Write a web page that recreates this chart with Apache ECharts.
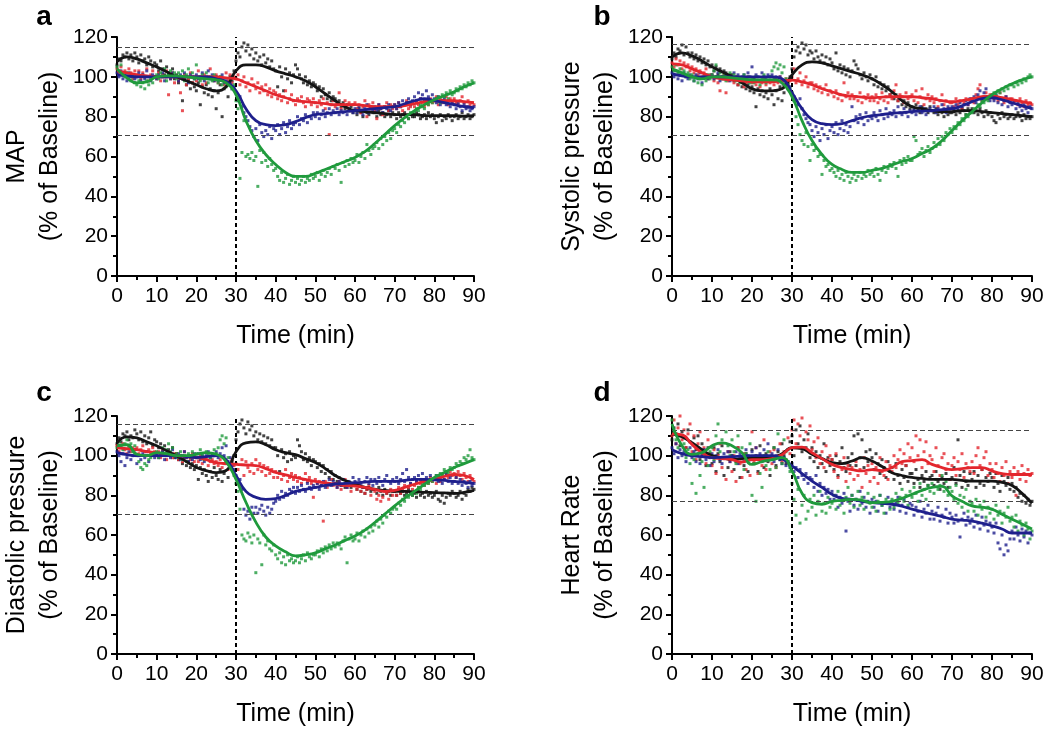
<!DOCTYPE html>
<html><head><meta charset="utf-8">
<script src="https://cdn.jsdelivr.net/npm/echarts@6/dist/echarts.min.js"></script>
<style>html,body{margin:0;padding:0;background:#fff}#c{width:1050px;height:736px}</style>
</head><body><div id="c"></div>
<script>
// ---- time sampling (minutes) ----
const LINE_STEP = 2.5;     // fitted curves sampled every 2.5 min
const DOT_STEP = 0.5;      // raw points every 0.5 min
const X_TICKS = [0, 10, 20, 30, 40, 50, 60, 70, 80, 90];
const Y_TICKS = [0, 20, 40, 60, 80, 100, 120];
const INJECTION_TIME = 30;

const PANEL_LETTERS = ['a', 'b', 'c', 'd'];
const PANEL_YTITLES = ['MAP', 'Systolic pressure', 'Diastolic pressure', 'Heart Rate'];
const X_TITLE = 'Time (min)';
const Y_SUBTITLE = '(% of Baseline)';
const THRESHOLDS = [[115, 70.7], [116.3, 70.7], [115.9, 70.3], [112.8, 76.8]];

// ---- fitted curves ----
const MAP_BLACK_LINE = [107.5,110,109,107,105,102.5,100,98,96,94,93,95,103,106,106,105,103,101.5,100,98,95,91.5,88,85,83,82.5,82,81.5,81,81,81,80.5,80.5,80.5,80.5,80.3,80.5];
const MAP_RED_LINE = [103,102,101,100.5,100,100,100,100,100,100,100,99.5,99,97,95,93,91,89.5,88,87.5,87,86.5,86,86,86,85.5,85,85,85,85.5,86.5,87.5,88,88,88,87.5,87];
const MAP_BLUE_LINE = [101,100.5,100,100,100,100,100,100,100,100,99,97.5,93,84,78,76,75.5,76,77.5,79.5,81,81.5,82,82.5,83,83.5,84,84.5,85,86.5,88,89,88,87,86,85,84.5];
const MAP_GREEN_LINE = [104,99.5,97,97.5,100,100.5,100.5,100,99.5,99,98.5,97,91,78,68,61,56,52,50,50,51.5,53.5,55.5,57.5,59.5,62.5,66.5,71,75.5,79.5,83,86,88.5,90.5,92.5,95,97];

const SYS_BLACK_LINE = [110,112,110.5,108,105,102.5,100,97,94,93,93,94,101,106,107.5,107,105.5,104,102.5,101,99,96,92.5,88,85,84,83,82.5,82.5,83,83,82.5,82,81.5,81,80.5,80];
const SYS_RED_LINE = [106.5,106,104,102,100,99,98.5,98,97.5,97.5,97.5,98,98.3,97.5,96,94,92.5,91,90.3,89.8,89.5,89.8,90,90,90,89.5,89,88,87.5,88,89,90,90.3,89.5,88.5,87.5,86.5];
const SYS_BLUE_LINE = [101.5,100.5,100,100,100,100,100,100,100,100,100,99,92,84,78.5,76.5,76,76.5,78,79.5,80.5,81,81.7,82,82.5,82.8,83,83.5,84,85.5,87.5,89,89.5,88.5,87,85.5,84];
const SYS_GREEN_LINE = [104,102,100,99,100,100,99.5,99,98.5,98.5,98.5,97,90,78,68,61,56,53.5,52,52,53,54,55.8,57.5,59,61.5,64,68,73,78,82.5,87,91,94,96.5,98.5,100];

const DIA_BLACK_LINE = [106.5,109.5,109,107,105,102.5,100,97,94,92.5,91.5,92.5,102,106.5,107,105.5,103,101.5,100.5,98.5,96.5,93.5,90,87.5,85.5,84,83,82.5,82,82,81.7,81.5,81.4,81.2,81,81.5,82.5];
const DIA_RED_LINE = [104,103.5,103,102,101.5,100.5,100,99.5,99,98,96.5,96,95.6,95.3,95,93.5,91.5,90.3,89,88,87,86.3,85.6,85,84.7,84,83,82,82.5,84,85.6,87,88,89.5,90.5,90,88];
const DIA_BLUE_LINE = [101.5,100.5,100,100,100,100,100,99.5,99,99.5,100,98,90,82,79,78,78.4,80,82,83,84,85,85.6,86,86.4,86.7,87,87,87,87.5,88,88,87.8,87.5,87,86.5,86];
const DIA_GREEN_LINE = [105,105.5,100.7,100,101.5,101,100,100,100.7,101.5,100.7,97,88,76.5,66.5,59,54.5,51.5,49.5,50,51,53,55,57.3,59.5,62.5,66.3,70.5,74.7,78.5,82,85.5,89,91.5,94,96,98];

const HR_BLACK_LINE = [111,109.5,106.5,103,100,99,98,98.5,99,99,99,101,104,103.5,100.7,98.5,96.5,96,97.3,99,97.3,94.5,91.4,90,89,88.5,88,88,88,87.5,87.2,87.2,87.2,86.5,85,81,76];
const HR_RED_LINE = [111,110.5,105.7,101.5,99,98.5,98,96.8,98,98,98.5,100.5,104,104.3,101.5,98.5,95.6,94,93,92.3,93,92.5,94,97,97.5,98,95.6,94,93,93.5,94,94,92.3,91,90.5,90.5,90.5];
const HR_BLUE_LINE = [103,101,100,99.5,99,99.3,99.5,99.8,100,100,100,98.5,94.8,91,87.2,84,80.5,78.5,78,77,76.3,76,75.5,74.5,73,71.8,70.5,69.3,68,67.5,67,66,64.6,63,61,61,61];
const HR_GREEN_LINE = [116,105,100.7,101.5,105,106.5,105,101.5,95.6,97,98,99,92.3,81,76.3,75.5,77,77.5,78,77.5,76.3,76.5,77,78.5,80.5,82.5,84,84.5,79.7,77,74.7,74,73,70.5,68,65.5,63];

// ---- raw points (every 0.5 min, 0..90) ----
const MAP_BLACK_DOTS = [
106,109,108,111,110,112,109,111,108,112, 110,107,111,108,109,106,110,108,105,107,
106,103,108,104,101,105,102,100,104,99, 101,97,100,88,99,96,98,94,97,95,
93,97,86,95,92,96,91,94,90,93, 84,92,96,80,94,97,90,100,98,103,
108,112,110,115,117,113,116,111,114,109, 112,108,110,106,111,107,109,105,108,104,
103,95,105,100,93,104,99,102,97,101, 106,104,101,99,97,100,96,98,95,97,
96,93,95,90,94,91,89,92,88,90, 89,86,88,85,87,84,86,83,85,82,
83,81,84,82,80,83,82,81,84,82, 82,80,83,81,82,80,81,83,80,82,
81,79,82,80,81,82,80,79,81,80, 80,82,81,79,80,81,79,82,80,81,
79,77,80,81,78,80,79,81,80,78, 80,81,79,80,82,79,80,81,79,80, 81];
const MAP_RED_DOTS = [
104,102,105,101,103,100,104,102,99,103, 101,103,99,102,100,104,98,101,103,100,
99,102,98,101,100,103,91,99,102,97, 100,98,92,83,101,96,99,102,97,100,
98,103,99,96,101,97,100,104,99,98, 101,97,100,99,96,102,98,101,97,100,
99,101,96,98,100,95,97,93,99,96, 94,97,92,95,93,96,91,94,90,93,
92,89,91,88,90,93,87,89,91,88, 86,89,88,90,87,85,89,88,86,89,
87,85,88,86,89,84,87,71,86,88, 85,87,92,84,86,88,85,87,83,86,
87,84,86,82,85,88,80,86,84,87, 83,79,86,84,81,85,87,83,86,84,
86,84,87,85,83,86,88,84,85,87, 85,88,86,89,87,85,88,86,89,87,
88,90,86,89,87,88,90,86,89,87, 89,87,86,88,90,87,85,88,86,87, 86];
const MAP_BLUE_DOTS = [
102,100,103,99,101,98,102,100,101,99, 100,102,98,101,99,103,100,98,101,100,
99,101,100,102,98,100,101,99,102,100, 100,98,101,99,102,100,97,101,100,99,
101,99,100,102,98,100,103,99,101,98, 100,98,99,101,97,98,96,97,94,95,
92,88,90,85,82,80,78,75,73,70, 74,68,76,72,70,73,71,75,69,74,
73,76,71,74,77,72,75,78,74,76, 77,80,76,79,78,81,77,80,79,82,
80,82,79,81,83,80,82,84,81,83, 82,84,81,83,82,85,81,84,83,82,
84,82,85,83,81,84,86,82,85,83, 85,83,86,84,82,85,84,86,83,85,
86,84,87,85,88,86,87,89,86,88, 90,87,92,89,91,88,93,90,88,91,
89,87,90,86,88,89,86,88,85,87, 86,84,87,85,83,86,84,85,83,84, 85];
const MAP_GREEN_DOTS = [
105,103,106,101,100,102,99,98,100,97, 96,98,95,97,94,98,96,99,97,100,
101,99,102,100,104,98,101,103,100,102, 99,102,100,103,98,101,104,100,102,99,
106,100,98,101,99,102,97,100,98,101, 99,97,100,96,98,95,97,99,94,96,
88,84,49,62,78,60,61,59,62,58, 60,45,63,57,62,58,55,59,56,53,
54,50,48,52,47,49,51,46,48,50, 47,49,46,48,50,47,49,48,51,49,
50,52,48,51,53,50,52,54,51,55, 54,56,53,47,57,55,58,56,59,57,
58,61,57,60,62,59,66,63,61,64, 65,67,64,69,66,70,68,72,69,73,
74,72,76,75,78,77,80,79,82,81, 82,84,83,86,85,84,87,86,88,87,
88,89,90,87,91,90,92,89,93,91, 92,94,93,95,94,96,95,97,96,98, 97];

const SYS_BLACK_DOTS = [
109,112,110,114,113,116,111,115,112,110, 112,109,111,108,110,107,109,106,108,105,
106,103,105,101,104,100,103,102,99,101, 101,98,100,96,99,95,97,94,96,93,
95,92,85,94,91,93,90,92,89,94, 91,86,93,89,95,88,92,97,96,100,
104,110,113,115,112,117,114,116,111,113, 112,109,113,110,108,111,107,110,106,109,
107,104,112,103,106,102,105,101,104,100, 103,108,106,104,101,99,102,100,98,101,
99,96,100,95,97,94,96,93,95,91, 92,89,91,88,90,86,88,85,87,84,
85,83,86,84,82,85,83,84,82,85, 83,82,84,81,83,82,80,83,81,82,
82,84,81,83,82,84,83,81,84,82, 84,82,83,81,84,82,80,83,81,82,
80,78,77,81,79,82,80,81,79,80, 81,79,80,82,80,78,81,79,80,79, 80];
const SYS_RED_DOTS = [
107,105,109,106,108,104,107,105,106,103, 105,102,104,101,103,100,102,104,99,101,
101,98,100,97,93,99,101,92,98,100, 99,97,100,96,98,99,95,97,100,98,
97,99,96,98,95,97,99,96,98,97, 98,96,99,97,100,98,96,99,97,98,
100,104,97,99,102,96,98,100,95,97, 97,94,96,93,95,92,94,96,91,93,
92,90,93,89,91,88,97,90,92,89, 91,89,90,88,92,87,90,89,91,88,
90,88,91,87,89,92,88,90,87,91, 89,93,96,88,91,90,87,92,89,90,
91,88,93,87,90,94,86,89,91,88, 90,87,89,85,88,91,86,88,84,87,
87,85,89,86,88,84,87,89,86,88, 89,87,91,94,96,88,90,92,89,91,
91,89,90,88,92,89,87,90,88,89, 89,87,88,86,89,87,85,88,86,87, 86];
const SYS_BLUE_DOTS = [
102,100,103,99,101,98,102,100,99,101, 100,98,101,99,102,97,100,101,99,100,
101,99,100,102,98,100,99,101,100,98, 100,102,99,101,98,100,101,99,102,100,
105,99,101,100,98,102,100,99,101,100, 101,99,100,98,100,97,96,98,94,95,
92,90,88,86,89,84,81,79,77,76, 73,70,75,72,68,74,71,76,69,73,
75,72,77,71,74,78,73,76,72,75, 85,78,80,77,81,79,76,82,78,80,
79,82,80,78,83,81,79,84,80,82, 81,83,80,85,82,81,84,82,80,83,
82,84,81,83,85,82,84,81,83,84, 83,85,82,84,83,86,84,82,85,84,
85,83,86,84,87,85,86,88,86,89, 88,90,87,91,93,89,92,94,90,88,
90,88,91,87,89,86,88,90,85,87, 86,88,84,87,85,83,86,84,82,85, 84];
const SYS_GREEN_DOTS = [
105,103,106,102,104,101,103,100,102,99, 101,98,100,97,99,96,100,98,101,99,
101,103,106,100,102,99,101,98,100,102, 99,101,98,100,97,99,101,98,100,97,
99,97,100,98,96,99,101,97,98,100, 103,105,107,104,106,102,105,99,97,94,
92,88,80,76,71,68,66,72,65,58, 66,63,64,60,61,51,58,55,56,53,
54,52,50,53,49,51,48,52,50,47, 49,51,48,50,52,49,51,50,53,51,
52,50,54,51,48,53,55,52,54,56, 55,57,54,50,58,56,59,57,60,58,
58,70,68,61,62,64,60,63,65,62, 64,67,65,69,66,70,68,72,71,74,
72,75,74,77,76,79,78,81,80,83, 82,84,83,86,85,88,87,89,88,90,
90,92,91,93,92,94,93,95,94,96, 96,95,97,96,98,97,99,98,100,101, 100];

const DIA_BLACK_DOTS = [
106,109,107,111,110,112,108,110,109,113, 111,108,112,107,110,106,109,112,105,108,
107,104,106,102,105,101,103,100,104,99, 101,98,100,96,99,95,97,94,96,93,
95,88,94,91,93,90,87,92,89,94, 90,88,93,87,91,96,89,94,97,100,
108,112,116,118,114,111,117,113,115,110, 112,108,111,107,110,106,109,105,108,104,
104,100,92,103,99,101,97,102,98,100, 99,108,105,102,98,101,97,99,95,98,
97,94,96,92,95,91,93,89,92,88, 90,87,89,85,88,84,87,86,84,85,
86,83,85,82,84,81,83,84,82,83, 83,81,84,82,80,83,81,82,80,82,
82,80,83,81,82,80,81,83,81,80, 81,79,82,80,81,79,82,80,81,79,
80,82,78,77,80,76,79,81,80,82, 81,79,80,82,78,81,80,83,82,84, 83];
const DIA_RED_DOTS = [
105,102,104,106,103,101,105,102,104,103, 104,101,103,105,102,100,103,101,104,102,
100,102,99,103,101,98,102,100,99,101, 101,98,100,97,102,99,100,98,101,97,
99,97,100,96,98,99,95,97,98,96, 97,95,98,94,96,97,93,96,98,95,
96,93,85,98,90,97,94,92,96,91, 98,93,96,92,95,90,94,91,93,89,
92,89,91,88,90,93,87,89,91,88, 90,87,89,86,88,91,87,89,86,79,
88,86,87,85,67,87,84,86,88,85, 86,84,87,83,85,88,84,86,82,85,
85,83,86,82,84,81,83,85,80,83, 82,78,80,77,79,82,81,78,83,80,
82,80,84,81,83,85,82,84,86,83, 85,87,84,86,88,85,87,86,89,87,
88,86,89,87,90,88,91,89,92,90, 91,89,92,90,88,91,89,87,90,88, 87];
const DIA_BLUE_DOTS = [
102,100,97,101,95,99,102,98,100,103, 96,100,98,101,99,102,97,100,101,99,
101,99,100,102,98,100,101,99,103,100, 99,101,98,100,102,99,97,100,98,101,
99,101,98,100,97,100,102,99,101,100, 102,99,101,104,100,105,97,99,95,93,
90,86,88,83,73,70,72,68,74,71, 74,71,73,75,72,70,74,71,73,76,
77,80,78,82,79,81,80,83,82,84, 81,84,82,85,83,82,86,84,83,85,
84,86,83,85,87,84,86,88,85,87, 86,84,87,85,88,86,84,87,85,89,
87,85,88,86,84,87,89,86,88,85, 88,86,89,87,85,88,90,87,86,88,
87,89,86,88,91,87,93,89,86,88, 89,87,90,88,91,86,89,87,90,88,
88,90,87,89,86,88,91,87,89,86, 87,89,86,88,85,87,86,84,87,85, 86];
const DIA_GREEN_DOTS = [
104,107,105,103,106,108,104,106,102,105, 100,97,94,93,96,95,98,99,101,100,
102,99,101,104,100,103,106,102,104,100, 101,99,102,98,100,97,101,99,102,100,
101,99,103,100,98,102,101,99,100,103, 101,104,108,110,106,109,99,96,93,90,
86,82,73,60,58,57,61,59,56,60, 41,58,56,45,60,55,57,53,52,55,
50,48,51,46,49,45,50,47,48,46, 47,49,46,48,50,47,51,49,48,50,
50,52,49,53,51,54,52,55,53,56, 54,56,55,53,57,59,46,58,60,57,
58,61,57,60,62,59,63,61,64,62, 65,67,64,68,66,70,69,72,71,73,
74,73,76,75,78,77,80,79,81,80, 82,81,84,83,86,85,87,86,88,87,
88,90,89,91,90,93,92,91,94,93, 94,96,95,97,96,99,98,100,103,99, 98];

const HR_BLACK_DOTS = [
108,114,111,116,105,112,109,104,113,107, 100,109,103,110,98,106,101,95,104,99,
96,104,92,101,97,105,90,99,94,102, 100,93,97,104,89,99,95,101,92,98,
103,96,100,92,105,98,94,101,97,90, 99,104,95,102,98,106,100,96,103,107,
110,100,113,106,115,102,108,104,111,99, 104,97,102,94,100,96,106,92,99,95,
98,93,100,90,97,104,94,92,99,95, 101,110,95,111,99,108,94,102,97,103,
99,93,101,96,91,98,94,89,97,92, 94,88,96,90,86,93,89,95,87,91,
91,86,93,88,84,90,87,92,85,89, 90,85,92,87,83,89,86,91,84,88,
89,94,86,108,90,84,92,87,85,91, 88,92,84,90,86,93,85,89,87,91,
89,84,91,86,82,90,87,85,89,83, 86,82,84,79,81,77,80,76,78,75, 77];
const HR_RED_DOTS = [
110,118,106,114,120,108,113,104,111,116, 102,110,98,106,112,100,104,96,108,101,
95,103,91,100,106,94,99,88,102,97, 92,100,87,104,96,89,101,93,98,90,
112,97,104,91,100,95,108,93,99,102, 96,103,94,100,106,97,102,98,109,101,
113,118,106,116,110,119,104,112,108,115, 103,107,99,109,96,102,94,105,98,100,
98,92,101,89,96,93,99,87,95,91, 94,88,97,90,93,84,99,91,95,87,
96,89,94,86,99,92,90,97,88,95, 92,100,94,98,103,96,101,95,106,99,
104,97,110,100,108,94,102,107,96,100, 98,92,104,95,90,99,101,93,96,88,
95,99,90,97,93,101,89,96,94,92, 97,91,100,104,95,93,99,102,90,96,
93,89,96,91,87,94,90,97,86,92, 89,94,80,92,88,95,91,87,93,90, 91];
const HR_BLUE_DOTS = [
104,101,106,99,103,100,102,97,101,104, 99,102,97,101,96,100,103,98,100,95,
101,97,100,103,98,96,101,99,102,97, 100,98,102,96,101,99,97,103,100,98,
102,99,104,98,101,97,103,100,106,99, 101,97,100,103,98,96,99,95,97,94,
96,92,94,89,93,90,88,91,86,89, 88,84,90,82,86,80,84,81,83,78,
82,78,80,74,79,76,81,62,77,72, 80,75,78,73,82,76,79,74,77,71,
78,74,77,72,80,75,76,71,79,74, 77,73,76,79,72,75,78,71,74,76,
75,70,74,72,77,69,73,71,75,68, 72,68,71,74,67,70,69,73,66,71,
69,66,70,67,59,68,71,65,69,66, 68,64,70,66,63,69,65,67,62,66,
64,61,66,56,53,60,50,55,52,58, 62,58,64,60,57,63,59,62,56,61, 60];
const HR_GREEN_DOTS = [
118,112,108,104,110,101,106,99,103,96, 86,98,81,104,90,97,84,100,95,102,
104,98,110,116,102,108,99,112,105,100, 108,102,96,110,99,104,93,101,97,106,
80,96,77,99,91,84,100,95,102,93, 98,104,94,111,100,96,108,102,97,92,
86,78,70,83,66,75,80,68,72,78, 74,80,70,77,82,72,76,71,79,74,
76,80,73,82,75,78,71,79,84,76, 80,74,78,82,75,79,73,77,81,76,
74,79,72,77,80,75,71,78,76,73, 78,74,81,76,79,83,77,80,75,82,
79,84,81,77,86,80,83,78,85,82, 86,81,88,83,85,90,82,87,80,84,
82,78,85,76,80,74,79,83,72,77, 76,72,78,70,75,73,77,69,74,71,
73,68,75,70,72,66,71,69,74,67, 69,64,70,62,67,65,60,66,63,58, 62];

const PANEL_SERIES = [
  [MAP_BLACK_DOTS, MAP_RED_DOTS, MAP_BLUE_DOTS, MAP_GREEN_DOTS, MAP_BLACK_LINE, MAP_RED_LINE, MAP_BLUE_LINE, MAP_GREEN_LINE],
  [SYS_BLACK_DOTS, SYS_RED_DOTS, SYS_BLUE_DOTS, SYS_GREEN_DOTS, SYS_BLACK_LINE, SYS_RED_LINE, SYS_BLUE_LINE, SYS_GREEN_LINE],
  [DIA_BLACK_DOTS, DIA_RED_DOTS, DIA_BLUE_DOTS, DIA_GREEN_DOTS, DIA_BLACK_LINE, DIA_RED_LINE, DIA_BLUE_LINE, DIA_GREEN_LINE],
  [HR_BLACK_DOTS, HR_RED_DOTS, HR_BLUE_DOTS, HR_GREEN_DOTS, HR_BLACK_LINE, HR_RED_LINE, HR_BLUE_LINE, HR_GREEN_LINE]
];

// ---- styling / layout ----
const COLORS = ['#141414', '#e3262d', '#1e1f8c', '#1f9a3c'];
const FONT = '"Liberation Sans", Arial, sans-serif';
const GRIDS = [
  {left: 114, top: 37, width: 360, height: 239},
  {left: 672, top: 37, width: 360, height: 239},
  {left: 114, top: 416, width: 360, height: 238},
  {left: 672, top: 416, width: 360, height: 238}
];
const LETTER_POS = [[44, 17.5], [602, 17.5], [44, 393.5], [602, 393.5]];

const grid = [], xAxis = [], yAxis = [], series = [], graphic = [];
GRIDS.forEach((g, p) => {
  grid.push(Object.assign({containLabel: false}, g));
  const axisCommon = {
    type: 'value', gridIndex: p,
    axisLine: {show: true, onZero: false, lineStyle: {color: '#000', width: 2}},
    axisTick: {show: true, inside: false, length: 6, lineStyle: {color: '#000', width: 2}},
    minorTick: {show: true, splitNumber: 2, length: 4, lineStyle: {color: '#000', width: 2}},
    splitLine: {show: false}, minorSplitLine: {show: false},
    axisLabel: {color: '#000', fontSize: 21, fontFamily: FONT},
    nameLocation: 'middle',
    nameTextStyle: {color: '#000', fontSize: 25, fontFamily: FONT, lineHeight: 33}
  };
  xAxis.push(Object.assign({}, axisCommon, {
    min: X_TICKS[0], max: X_TICKS[X_TICKS.length - 1], interval: X_TICKS[1] - X_TICKS[0],
    axisLabel: Object.assign({}, axisCommon.axisLabel, {margin: 10}),
    name: X_TITLE, nameGap: 44
  }));
  yAxis.push(Object.assign({}, axisCommon, {
    min: Y_TICKS[0], max: Y_TICKS[Y_TICKS.length - 1], interval: Y_TICKS[1] - Y_TICKS[0],
    axisLabel: Object.assign({}, axisCommon.axisLabel, {margin: 9}),
    name: PANEL_YTITLES[p] + '\n' + Y_SUBTITLE, nameGap: 50
  }));
  const arrs = PANEL_SERIES[p];
  for (let k = 0; k < 4; k++) {
    series.push({
      type: 'scatter', xAxisIndex: p, yAxisIndex: p, silent: true,
      symbol: 'rect', symbolSize: 3, z: 2,
      itemStyle: {color: COLORS[k]},
      data: arrs[k].map((v, i) => [i * DOT_STEP, v])
    });
  }
  for (let k = 0; k < 4; k++) {
    const s = {
      type: 'line', xAxisIndex: p, yAxisIndex: p, silent: true,
      smooth: 0.5, showSymbol: false, symbol: 'none', z: 4,
      lineStyle: {color: COLORS[k], width: 2.8},
      data: arrs[4 + k].map((v, i) => [i * LINE_STEP, v])
    };
    if (k === 0) {
      s.markLine = {
        silent: true, symbol: ['none', 'none'], label: {show: false}, z: 3,
        data: [
          {xAxis: INJECTION_TIME, lineStyle: {color: '#000', width: 2, type: [4, 3]}},
          {yAxis: THRESHOLDS[p][0], lineStyle: {color: '#444', width: 1.2, type: [5, 3]}},
          {yAxis: THRESHOLDS[p][1], lineStyle: {color: '#444', width: 1.2, type: [5, 3]}}
        ]
      };
    }
    series.push(s);
  }
  graphic.push({
    type: 'text', x: LETTER_POS[p][0], y: LETTER_POS[p][1],
    style: {text: PANEL_LETTERS[p], font: 'bold 28px ' + FONT, fill: '#000', textAlign: 'center', textVerticalAlign: 'middle'}
  });
});

const chart = echarts.init(document.getElementById('c'), null, {renderer: 'canvas'});
chart.setOption({
  backgroundColor: '#fff', animation: false,
  grid, xAxis, yAxis, series, graphic
});
</script>
</body></html>
